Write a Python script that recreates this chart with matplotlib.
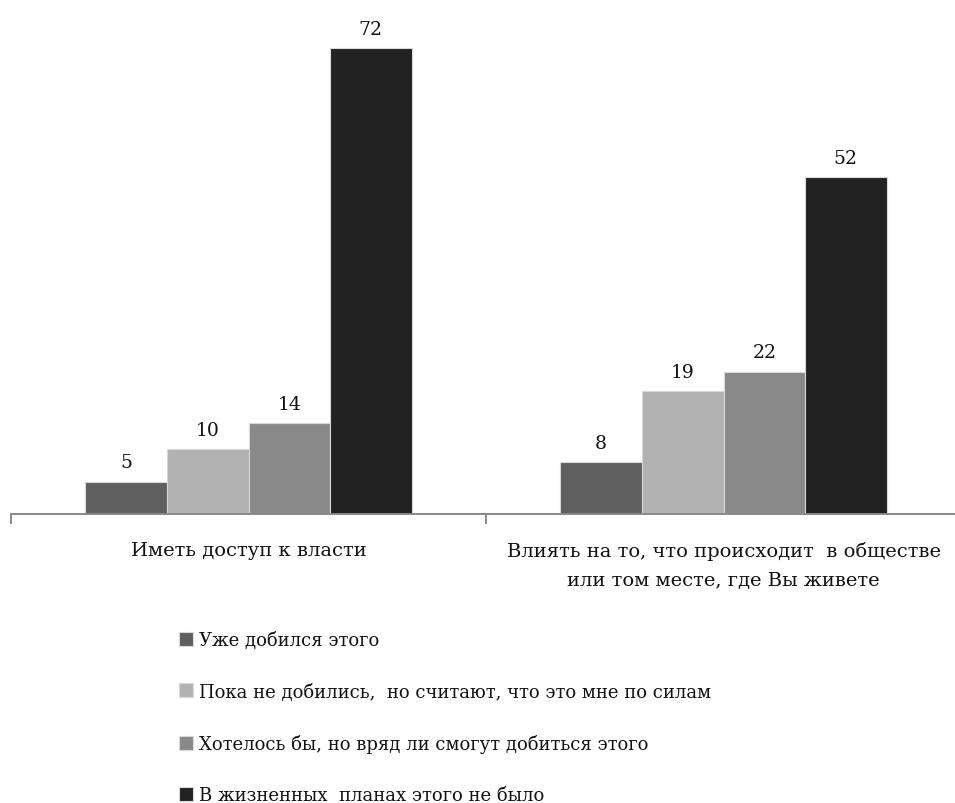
import matplotlib.pyplot as plt
import numpy as np

plt.rcParams['font.family'] = ['DejaVu Serif']

categories = ['Иметь доступ к власти',
              'Влиять на то, что происходит  в обществе\nили том месте, где Вы живете']
series = ['Уже добился этого',
          'Пока не добились,  но считают, что это мне по силам',
          'Хотелось бы, но вряд ли смогут добиться этого',
          'В жизненных  планах этого не было']
values = [[5, 8], [10, 19], [14, 22], [72, 52]]
colors = ['#5f5f5f', '#b2b2b2', '#898989', '#222222']

fig = plt.figure(figsize=(9.55, 8.04), dpi=100)
# axes: baseline at y=515px, categories 475px wide starting x=11
ax = fig.add_axes([11 / 955, 1 - 515 / 804, 950 / 955, 515 / 804])
ax.set_xlim(0, 2)
ax.set_ylim(0, 515 / (466 / 72))

x = np.arange(len(categories)) + 0.5
bw = 0.1716
handles = []
for i, (vals, c) in enumerate(zip(values, colors)):
    pos = x + (i - 1.5) * bw
    b = ax.bar(pos, vals, width=bw, color=c, edgecolor='#d8d8d8', linewidth=0.8)
    handles.append(b)
    for px, v in zip(pos, vals):
        ax.text(px, v + 1.6, str(v), ha='center', va='bottom', fontsize=13.5, color='#111111')

for s in ['top', 'right', 'left']:
    ax.spines[s].set_visible(False)
ax.spines['bottom'].set_color('#888888')
ax.spines['bottom'].set_linewidth(1.4)
ax.set_yticks([])
ax.set_xticks([0, 1, 2])
ax.set_xticklabels([])
ax.tick_params(axis='x', length=7, color='#888888', width=1.4)
for xi, lab in zip(x, categories):
    ax.text(xi, -4.1, lab, ha='center', va='top', fontsize=14, color='#111111',
            linespacing=1.8)

fig.legend(handles, series, loc='upper left', bbox_to_anchor=(170 / 955, 1 - 623 / 804),
           frameon=False, fontsize=13, handlelength=0.8, handleheight=0.8,
           handletextpad=0.3, labelspacing=1.85, borderpad=0, labelcolor='#111111')

fig.savefig('out.png', dpi=100)
